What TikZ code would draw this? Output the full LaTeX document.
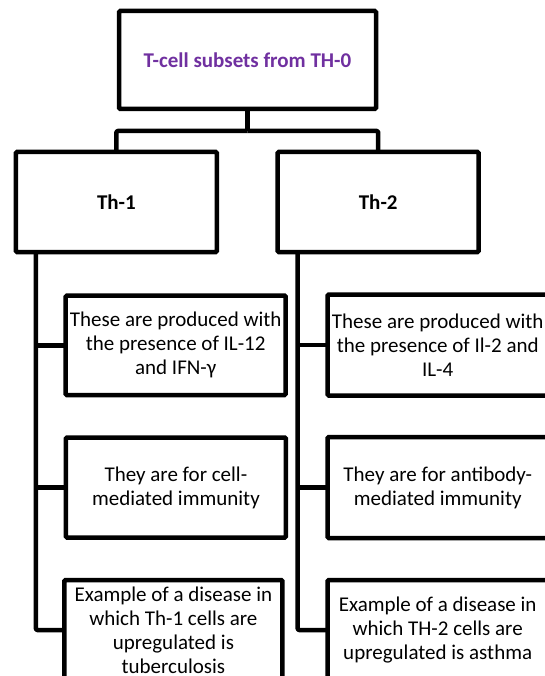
\documentclass[tikz,border=0pt]{standalone}
\usepackage{fontspec}
\setmainfont{Carlito}
\definecolor{titlepurple}{HTML}{7030A0}
\begin{document}
\begin{tikzpicture}[x=1pt,y=-1pt,
  box/.style={draw=black,line width=4.5pt,rectangle,rounded corners=1.2pt,outer sep=0pt,inner sep=0pt,
    align=center,font=\fontsize{21}{24}\selectfont,fill=white},
  link/.style={draw=black,line width=4.5pt,rounded corners=1.2pt,line join=round}]
\useasboundingbox[fill=white] (0,0) rectangle (544,676);
% boxes
\node[box,minimum width=257pt,minimum height=98pt,text=titlepurple,font=\fontsize{21}{24}\selectfont\bfseries] (top) at (247.5,60) {T-cell subsets from TH-0};
\node[box,minimum width=201pt,minimum height=100pt,font=\fontsize{21}{24}\selectfont\bfseries] (th1) at (116.4,202) {Th-1};
\node[box,minimum width=201pt,minimum height=100pt,font=\fontsize{21}{24}\selectfont\bfseries] (th2) at (378.2,202) {Th-2};
\node[box,minimum width=220pt,minimum height=99.5pt] (l1) at (175.7,345.3) {These are produced with\\the presence of IL-12\\and IFN-γ};
\node[box,minimum width=220pt,minimum height=100pt] (l2) at (175.9,487.5) {They are for cell-\\mediated immunity};
\node[box,minimum width=218pt,minimum height=100pt] (l3) at (173.4,630) {Example of a disease in\\which Th-1 cells are\\upregulated is\\tuberculosis};
\node[box,minimum width=220pt,minimum height=101pt] (r1) at (437.7,345) {These are produced with\\the presence of Il-2 and\\IL-4};
\node[box,minimum width=220pt,minimum height=101pt] (r2) at (437.7,487.5) {They are for antibody-\\mediated immunity};
\node[box,minimum width=220pt,minimum height=100pt] (r3) at (437.7,630) {Example of a disease in\\which TH-2 cells are\\upregulated is asthma};
% top connectors
\coordinate (bar) at (247.5,131);
\draw[link] (top.south) -- (bar);
\draw[link] (bar) -| (th1.north);
\draw[link] (bar) -| (th2.north);
% spines
\coordinate (sL) at ([xshift=20pt]th1.south west);
\coordinate (sR) at ([xshift=20pt]th2.south west);
\draw[link] (sL) |- (l3.west);
\draw[link] (sL |- l1.west) -- (l1.west);
\draw[link] (sL |- l2.west) -- (l2.west);
\draw[link] (sR) |- (r3.west);
\draw[link] (sR |- r1.west) -- (r1.west);
\draw[link] (sR |- r2.west) -- (r2.west);
\end{tikzpicture}
\end{document}
